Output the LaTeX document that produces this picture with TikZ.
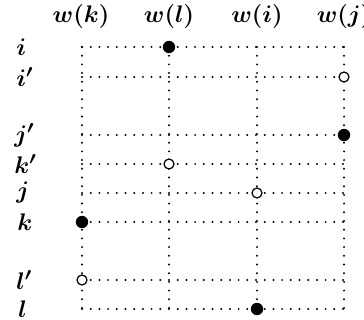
\documentclass[tikz,border=0pt]{standalone}
\begin{document}
\begin{tikzpicture}[x=0.5pt,y=-0.5pt,
  gridline/.style={line width=1.1pt,line cap=round,dash pattern=on 0pt off 4.35pt},
  full/.style={circle,fill=black,inner sep=0pt,minimum size=6.2pt},
  hollow/.style={circle,draw=black,fill=white,line width=0.6pt,inner sep=0pt,minimum size=5pt},
  lab/.style={font=\fontsize{12.5}{15}\selectfont\boldmath,inner sep=0pt}]
\useasboundingbox (0,0) rectangle (364,320);
% column positions
\foreach \n/\x in {ck/82,cl/169,ci/257,cj/344}{
  \coordinate (\n t) at (\x,47);
  \coordinate (\n b) at (\x,309);
}
% row positions
\foreach \n/\y in {ri/47,rip/77,rjp/135,rkp/164,rj/193,rk/222,rlp/280,rl/309}{
  \coordinate (\n l) at (82,\y);
  \coordinate (\n r) at (344,\y);
}
\foreach \n in {ck,cl,ci,cj} \draw[gridline] (\n t) -- (\n b);
\foreach \n in {ri,rip,rjp,rkp,rj,rk,rlp,rl} \draw[gridline] (\n l) -- (\n r);
% column labels
\node[lab] (wk) at (81,17) {$w(k)$};
\node[lab] (wl) at (169,17) {$w(l)$};
\node[lab] (wi) at (257,17) {$w(i)$};
\node[lab] (wj) at (344,17) {$w(j)$};
% row labels
\node[lab,anchor=west] (li) at (16,47) {$i$};
\node[lab,anchor=west] (lip) at (16,77) {$i'$};
\node[lab,anchor=west] (ljp) at (14,135) {$j'$};
\node[lab,anchor=west] (lkp) at (14,164) {$k'$};
\node[lab,anchor=west] (lj) at (16,193) {$j$};
\node[lab,anchor=west] (lk) at (17,222) {$k$};
\node[lab,anchor=west] (llp) at (16,280) {$l'$};
\node[lab,anchor=west] (ll) at (18,309) {$l$};
% points
\node[full] (p1) at (169,47) {};
\node[hollow] (p2) at (344,77) {};
\node[full] (p3) at (344,135) {};
\node[hollow] (p4) at (169,164) {};
\node[hollow] (p5) at (257,193) {};
\node[full] (p6) at (82,222) {};
\node[hollow] (p7) at (82,280) {};
\node[full] (p8) at (257,309) {};
\end{tikzpicture}
\end{document}
